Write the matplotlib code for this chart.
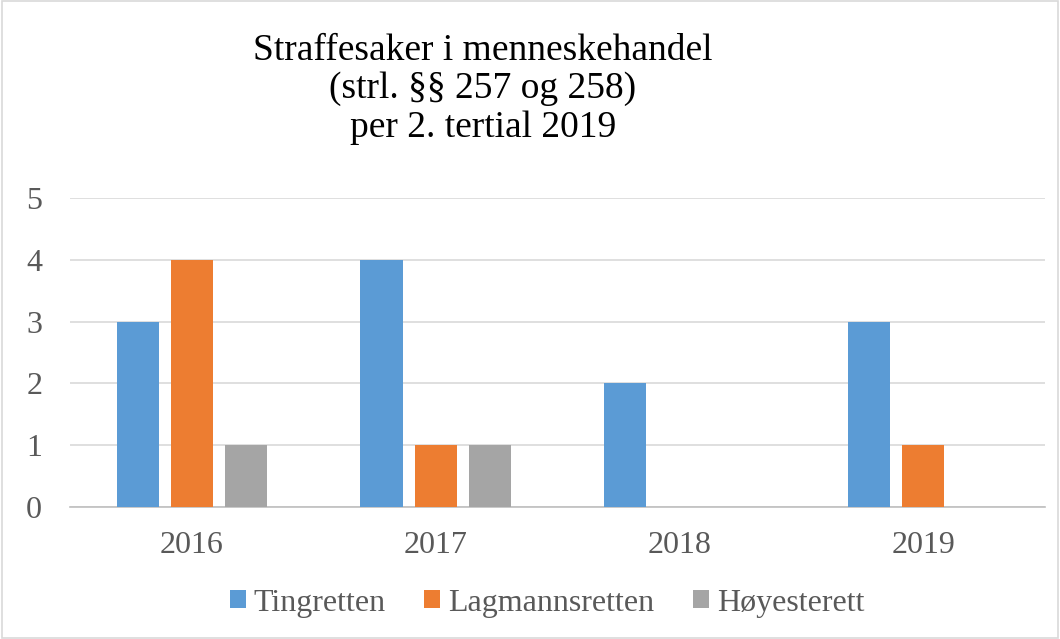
import matplotlib.pyplot as plt
import numpy as np
from matplotlib.patches import Rectangle

years = ['2016', '2017', '2018', '2019']
tingretten = [3, 4, 2, 3]
lagmannsretten = [4, 1, 0, 1]
hoyesterett = [1, 1, 0, 0]
series_names = ['Tingretten', 'Lagmannsretten', 'Høyesterett']
colors = ['#5B9BD5', '#ED7D31', '#A5A5A5']

plt.rcParams['font.family'] = ['Liberation Serif', 'DejaVu Serif']

fig = plt.figure(figsize=(10.6, 6.39), dpi=100)
ax = fig.add_axes([70 / 1060, 1 - 507 / 639, 975 / 1060, 309 / 639])

x = np.arange(len(years))
w = 0.173
step = 0.222
for i, (vals, name, c) in enumerate(zip([tingretten, lagmannsretten, hoyesterett], series_names, colors)):
    ax.bar(x + (i - 1) * step, vals, width=w, color=c, label=name, zorder=3)

ax.set_xlim(-0.5, len(years) - 0.5)
ax.set_ylim(0, 5)
ax.set_yticks(range(6))
ax.set_xticks(x)
ax.set_xticklabels(years)
ax.tick_params(axis='both', length=0, labelsize=23, colors='#595959')
ax.tick_params(axis='x', pad=17)
ax.tick_params(axis='y', pad=20)
ax.grid(axis='y', color='#d9d9d9', linewidth=1.2, zorder=0)
for s in ['top', 'right', 'left']:
    ax.spines[s].set_visible(False)
ax.spines['bottom'].set_color('#bfbfbf')
ax.spines['bottom'].set_linewidth(1.2)

fig.text(483 / 1060, 1 - 89 / 639,
         'Straffesaker i menneskehandel\n(strl. §§ 257 og 258)\nper 2. tertial 2019',
         ha='center', va='center', fontsize=27, linespacing=1.15)

fig.legend(loc='center', bbox_to_anchor=(547 / 1060, 1 - 603 / 639), ncol=3,
           frameon=False, fontsize=23, handlelength=0.5, handleheight=0.5,
           handletextpad=0.25, columnspacing=1.2, labelcolor='#595959')

fig.patches.append(Rectangle((0.002, 0.002), 0.996, 0.996, transform=fig.transFigure,
                             fill=False, edgecolor='#d9d9d9', linewidth=1.2))

fig.savefig('out.png', dpi=100)
